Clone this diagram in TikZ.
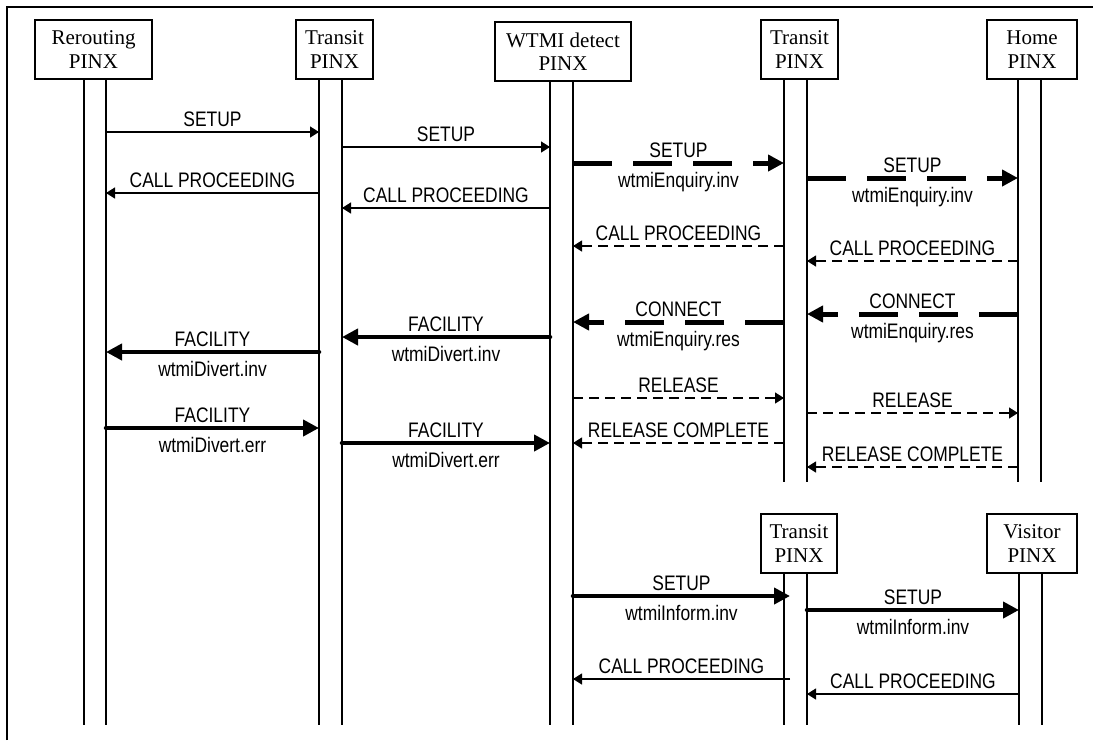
\documentclass[tikz,border=0pt]{standalone}
\usepackage{fontspec}
\setmainfont{Liberation Serif}
\newfontfamily\msgfont[FakeStretch=0.83]{Liberation Sans}
\usetikzlibrary{arrows.meta}
\begin{document}
\begin{tikzpicture}[x=1pt,y=-1pt,
  pbox/.style={draw, line width=2.2pt, inner sep=0pt, align=center,
    font=\fontsize{21}{23.3}\selectfont},
  life/.style={line width=2.3pt},
  frame/.style={line width=2.2pt},
  thinmsg/.style={line width=1.3pt, -{Triangle[length=9pt,width=11pt]}},
  thindash/.style={thinmsg, dash pattern=on 10pt off 6pt},
  thickmsg/.style={line width=4.5pt, line cap=round, -{Triangle[length=16pt,width=16pt]}},
  thickdash/.style={line width=5pt, dash pattern=on 39pt off 21pt, -{Triangle[length=16pt,width=16pt]}},
  uplab/.style={anchor=base, yshift=5.5pt, inner sep=0pt, font=\msgfont\fontsize{21}{25}\selectfont},
  lowlab/.style={anchor=base, yshift=-24.5pt, inner sep=0pt, font=\msgfont\fontsize{21}{25}\selectfont}
]
\useasboundingbox (0,0) rectangle (1093,740);
% frame
\draw[frame] (7,740) -- (7,7) -- (1093,7);

% participant boxes
\node[pbox, minimum width=117pt, minimum height=59pt] (R) at (93.5,49.5) {Rerouting\\PINX};
\node[pbox, minimum width=77pt, minimum height=59pt] (T) at (334.5,49.5) {Transit\\PINX};
\node[pbox, minimum width=136pt, minimum height=59pt] (W) at (563,51.5) {WTMI detect\\PINX};
\node[pbox, minimum width=77pt, minimum height=59pt] (X) at (799.5,49.5) {Transit\\PINX};
\node[pbox, minimum width=90pt, minimum height=59pt] (H) at (1032,49.5) {Home\\PINX};
\node[pbox, minimum width=76pt, minimum height=59pt] (Y) at (799,543.5) {Transit\\PINX};
\node[pbox, minimum width=90pt, minimum height=59pt] (V) at (1032,543.5) {Visitor\\PINX};

% lifeline x positions
\coordinate (Ra) at (84,0);   \coordinate (Rb) at (106,0);
\coordinate (Ta) at (319,0);  \coordinate (Tb) at (342,0);
\coordinate (Wa) at (550,0);  \coordinate (Wb) at (573,0);
\coordinate (Xa) at (784,0);  \coordinate (Xb) at (807,0);
\coordinate (Ha) at (1018,0); \coordinate (Hb) at (1041,0);
\coordinate (Ya) at (784,0);  \coordinate (Yb) at (807,0);
\coordinate (Yt) at (790,0);
\coordinate (Va) at (1019,0); \coordinate (Vb) at (1042,0);

% lifelines
\foreach \p/\e in {Ra/R,Rb/R,Ta/T,Tb/T,Wa/W,Wb/W}
  \draw[life] (\p |- \e.south) -- (\p |- 0,725);
\foreach \p/\e in {Xa/X,Xb/X,Ha/H,Hb/H}
  \draw[life] (\p |- \e.south) -- (\p |- 0,482);
\foreach \p/\e in {Ya/Y,Yb/Y,Va/V,Vb/V}
  \draw[life] (\p |- \e.south) -- (\p |- 0,725);

% messages
\draw[thinmsg] (Rb |- 0,132) -- node[uplab]{SETUP} (Ta |- 0,132);
\draw[thinmsg] (Tb |- 0,147) -- node[uplab]{SETUP} (Wa |- 0,147);
\draw[thickdash] (Wb |- 0,163) -- node[uplab]{SETUP} node[lowlab]{wtmiEnquiry.inv} (Xa |- 0,163);
\draw[thickdash] (Xb |- 0,178) -- node[uplab]{SETUP} node[lowlab]{wtmiEnquiry.inv} (Ha |- 0,178);
\draw[thinmsg] (Ta |- 0,193) -- node[uplab]{CALL PROCEEDING} (Rb |- 0,193);
\draw[thinmsg] (Wa |- 0,208) -- node[uplab]{CALL PROCEEDING} (Tb |- 0,208);
\draw[thindash] (Xa |- 0,246) -- node[uplab]{CALL PROCEEDING} (Wb |- 0,246);
\draw[thindash] (Ha |- 0,261) -- node[uplab]{CALL PROCEEDING} (Xb |- 0,261);
\draw[thickdash] (Ha |- 0,314) -- node[uplab]{CONNECT} node[lowlab]{wtmiEnquiry.res} (Xb |- 0,314);
\draw[thickdash] (Xa |- 0,322) -- node[uplab]{CONNECT} node[lowlab]{wtmiEnquiry.res} (Wb |- 0,322);
\draw[thickmsg] (Wa |- 0,337) -- node[uplab]{FACILITY} node[lowlab]{wtmiDivert.inv} (Tb |- 0,337);
\draw[thickmsg] (Ta |- 0,352) -- node[uplab]{FACILITY} node[lowlab]{wtmiDivert.inv} (Rb |- 0,352);
\draw[thindash] (Wb |- 0,398) -- node[uplab]{RELEASE} (Xa |- 0,398);
\draw[thindash] (Xb |- 0,413) -- node[uplab]{RELEASE} (Ha |- 0,413);
\draw[thickmsg] (Rb |- 0,428) -- node[uplab]{FACILITY} node[lowlab]{wtmiDivert.err} (Ta |- 0,428);
\draw[thickmsg] (Tb |- 0,443) -- node[uplab]{FACILITY} node[lowlab]{wtmiDivert.err} (Wa |- 0,443);
\draw[thindash] (Xa |- 0,443) -- node[uplab]{RELEASE COMPLETE} (Wb |- 0,443);
\draw[thindash] (Ha |- 0,467) -- node[uplab]{RELEASE COMPLETE} (Xb |- 0,467);
\draw[thickmsg] (Wb |- 0,596) -- node[uplab]{SETUP} node[lowlab]{wtmiInform.inv} (Yt |- 0,596);
\draw[thickmsg] (Yb |- 0,610) -- node[uplab]{SETUP} node[lowlab]{wtmiInform.inv} (Va |- 0,610);
\draw[thinmsg] (Yt |- 0,679) -- node[uplab]{CALL PROCEEDING} (Wb |- 0,679);
\draw[thinmsg] (Va |- 0,694) -- node[uplab]{CALL PROCEEDING} (Yb |- 0,694);
\end{tikzpicture}
\end{document}
